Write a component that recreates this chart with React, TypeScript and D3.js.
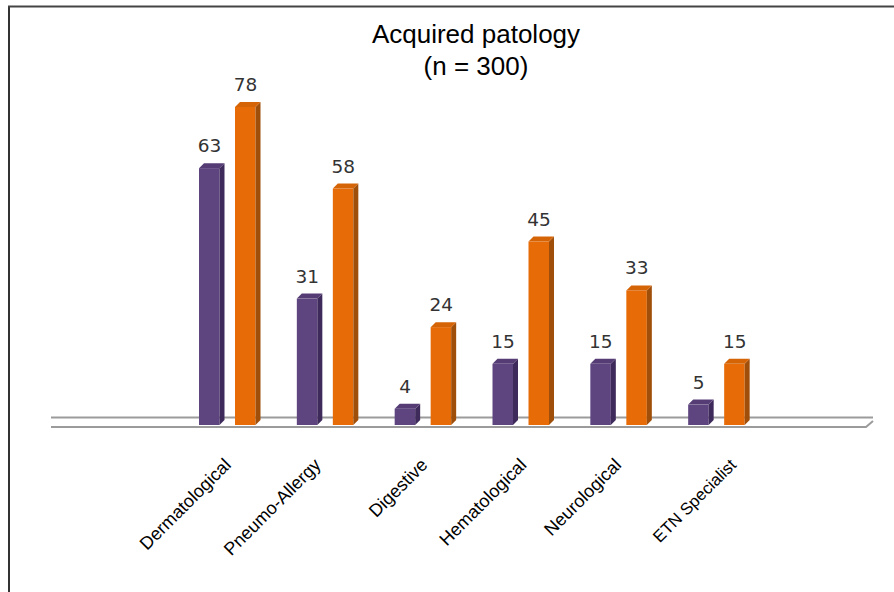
import * as d3 from 'd3';
import React from 'react';

const categories = ['Dermatological', 'Pneumo-Allergy', 'Digestive', 'Hematological', 'Neurological', 'ETN Specialist'];
const seriesA = [63, 31, 4, 15, 15, 5];
const seriesB = [78, 58, 24, 45, 33, 15];
const titleLines = ['Acquired patology', '(n = 300)'];

const width = 894;
const height = 592;
const baseY = 425;
const barW = 20.5;
const depth = 5;
// labels were hand placed in the original, so they don't sit evenly under the bars
const labelShift = [-3, -11, -2, -1, -4, 13];

const x = d3.scaleBand<string>().domain(categories).range([180.5, 767.5]);
const y = d3.scaleLinear().domain([0, 78]).range([420, 102]);

const purple = { front: '#5f4580', side: '#3f2b5b', top: '#553c74' };
const orange = { front: '#e76c08', side: '#a04f0b', top: '#d56407' };

// front face, darker side and sloped top of one pseudo-3D bar
function Bar({ left, value, colors }: { left: number; value: number; colors: typeof purple }) {
  const top = y(value);
  const right = left + barW;
  const sidePath = d3.path();
  sidePath.moveTo(right, top + depth);
  sidePath.lineTo(right + depth, top);
  sidePath.lineTo(right + depth, baseY - depth);
  sidePath.lineTo(right, baseY);
  sidePath.closePath();
  const topPath = d3.path();
  topPath.moveTo(left, top + depth);
  topPath.lineTo(left + depth, top);
  topPath.lineTo(right + depth, top);
  topPath.lineTo(right, top + depth);
  topPath.closePath();
  return (
    <g>
      <rect x={left} y={top + depth} width={barW} height={Math.max(0, baseY - top - depth)} fill={colors.front} />
      <path d={sidePath.toString()} fill={colors.side} />
      <path d={topPath.toString()} fill={colors.top} />
    </g>
  );
}

export default function App() {
  const floorEnd = d3.path();
  floorEnd.moveTo(51, 427);
  floorEnd.lineTo(866, 427);
  floorEnd.lineTo(873, 421);

  return (
    <svg width={width} height={height} style={{ position: 'absolute', left: 0, top: 0, display: 'block', background: '#fff' }}>
      <line x1={9} x2={9} y1={6} y2={height} stroke="#333" strokeWidth={2} />
      <line x1={8} x2={width} y1={6.5} y2={6.5} stroke="#444" strokeWidth={2} />

      <g fontFamily="Liberation Sans, Arial, sans-serif" fontSize={26} fill="#000" textAnchor="middle">
        {titleLines.map((t, i) => (
          <text key={t} x={476} y={43 + i * 32}>{t}</text>
        ))}
      </g>

      <line x1={51} x2={873} y1={417.5} y2={417.5} stroke="#9b9b9b" strokeWidth={2} />
      <path d={floorEnd.toString()} fill="none" stroke="#9b9b9b" strokeWidth={2} />

      {categories.map((c, i) => {
        const start = x(c)! + 18.5;
        return (
          <g key={c}>
            <Bar left={start} value={seriesA[i]} colors={purple} />
            <Bar left={start + 36} value={seriesB[i]} colors={orange} />
            <g fontFamily="DejaVu Sans, sans-serif" fontSize={18.5} fill="#333" textAnchor="middle">
              <text x={start + 10.5} y={y(seriesA[i]) - 11}>{seriesA[i]}</text>
              <text x={start + 46.5} y={y(seriesB[i]) - 11}>{seriesB[i]}</text>
            </g>
            <text
              transform={`translate(${start + 36 + labelShift[i]},466) rotate(-45)`}
              textAnchor="end"
              fontFamily="Liberation Sans, Arial, sans-serif"
              fontSize={i === 5 ? 16.7 : 18}
              fill="#000"
            >
              {c}
            </text>
          </g>
        );
      })}
    </svg>
  );
}
